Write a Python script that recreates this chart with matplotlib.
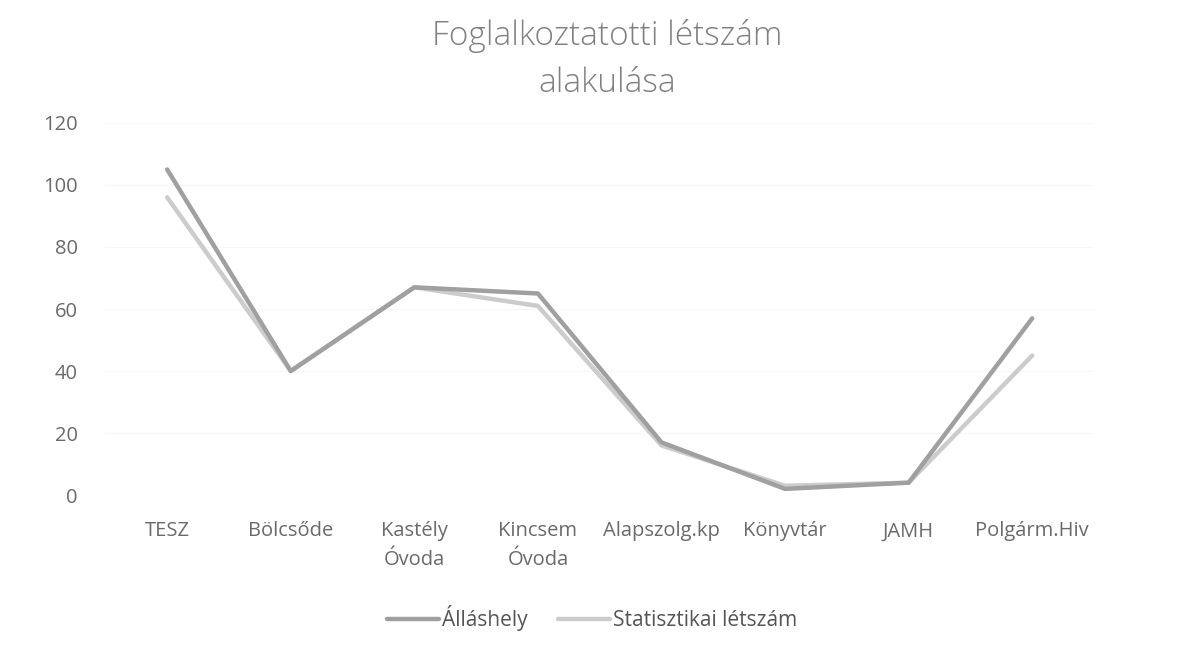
import matplotlib.pyplot as plt
import numpy as np

plt.rcParams['font.family'] = ['Open Sans', 'DejaVu Sans']

categories = ['TESZ', 'Bölcsőde', 'Kastély\nÓvoda', 'Kincsem\nÓvoda',
              'Alapszolg.kp', 'Könyvtár', 'JAMH', 'Polgárm.Hiv']
allashely = [105, 40, 67, 65, 17, 2, 4, 57]
statisztikai = [96, 40, 67, 61, 16, 3, 4, 45]
y_ticks = [0, 20, 40, 60, 80, 100, 120]

fig = plt.figure(figsize=(11.84, 6.54), dpi=100)
ax = fig.add_axes([0.089, 0.243, 0.835, 0.569])

x = np.arange(len(categories))
ax.plot(x, allashely, color='#a0a0a0', lw=3.2, label='Álláshely',
        solid_capstyle='round', zorder=3)
ax.plot(x, statisztikai, color='#cccccc', lw=3.2, label='Statisztikai létszám',
        solid_capstyle='round', zorder=2)

ax.set_xlim(-0.5, len(categories) - 0.5)
ax.set_ylim(0, 120)
ax.set_yticks(y_ticks)
ax.set_xticks(x)
ax.set_xticklabels(categories, fontsize=14.5, color='#6a6a6a', va='top',
                   linespacing=1.6)
ax.tick_params(axis='y', labelsize=14.5, labelcolor='#6a6a6a', length=0, pad=20)
ax.tick_params(axis='x', length=0, pad=19)
for t in ax.get_xticklabels():
    t.set_horizontalalignment('center')
ax.grid(axis='y', color='#f7f7f7', lw=0.8)
for s in ax.spines.values():
    s.set_visible(False)

fig.text(0.513, 0.909, 'Foglalkoztatotti létszám\nalakulása', ha='center', va='center',
         fontsize=24, color='#808080', linespacing=1.5, fontweight='light')

fig.legend(loc='center', bbox_to_anchor=(0.5, 0.055), ncol=2, frameon=False,
           fontsize=15, labelcolor='#555555', handlelength=2.5,
           columnspacing=1.5, handletextpad=0.1)

fig.savefig('out.png', dpi=100)
